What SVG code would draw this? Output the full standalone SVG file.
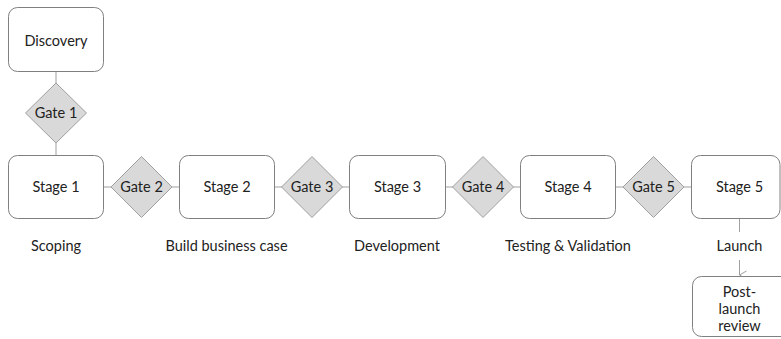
<svg xmlns="http://www.w3.org/2000/svg" width="781" height="339" viewBox="0 0 781 339">
<style>
.box{fill:#fff;stroke:#808080;stroke-width:1}
.gate{fill:#d9d9d9;stroke:#a0a0a0;stroke-width:1}
.t{font-family:Lato,"Liberation Sans",sans-serif;font-size:14.5px;fill:#222;text-anchor:middle}
.c{stroke:#a0a0a0;stroke-width:1;fill:none}
</style>
<defs>
<marker id="arr" markerWidth="10" markerHeight="10" refX="5" refY="8" orient="auto" markerUnits="userSpaceOnUse" viewBox="0 0 10 10">
<path d="M1,1 L5,8 L9,1" fill="none" stroke="#a0a0a0" stroke-width="1"/>
</marker>
</defs>
<g id="connectors">
<line class="c" x1="56" y1="72" x2="56" y2="83"/>
<line class="c" x1="56" y1="143" x2="56" y2="155"/>
<line class="c" x1="104" y1="187" x2="111" y2="187"/>
<line class="c" x1="172" y1="187" x2="179" y2="187"/>
<line class="c" x1="274" y1="187" x2="282" y2="187"/>
<line class="c" x1="342" y1="187" x2="349" y2="187"/>
<line class="c" x1="445" y1="187" x2="453" y2="187"/>
<line class="c" x1="513" y1="187" x2="520" y2="187"/>
<line class="c" x1="616" y1="187" x2="623" y2="187"/>
<line class="c" x1="684" y1="187" x2="691" y2="187"/>
<line class="c" x1="739.5" y1="219" x2="739.5" y2="232"/>
<line class="c" x1="739.5" y1="260" x2="739.5" y2="275" marker-end="url(#arr)"/>
</g>
<g id="discovery"><rect class="box" x="8.5" y="7.5" width="95" height="64" rx="9"/><text class="t" x="56" y="46">Discovery</text></g>
<g id="gate1"><polygon class="gate" points="56,83 86.5,113 56,143 25.5,113"/><text class="t" x="56" y="118">Gate 1</text></g>
<g id="stage1"><rect class="box" x="8.5" y="155.5" width="95" height="63" rx="9"/><text class="t" x="56" y="192">Stage 1</text></g>
<g id="gate2"><polygon class="gate" points="141.5,156.5 172,187 141.5,217.5 111,187"/><text class="t" x="141.5" y="192">Gate 2</text></g>
<g id="stage2"><rect class="box" x="179.5" y="155.5" width="95" height="63" rx="9"/><text class="t" x="227" y="192">Stage 2</text></g>
<g id="gate3"><polygon class="gate" points="312,156.5 342.5,187 312,217.5 281.5,187"/><text class="t" x="312" y="192">Gate 3</text></g>
<g id="stage3"><rect class="box" x="349.5" y="155.5" width="96" height="63" rx="9"/><text class="t" x="397.5" y="192">Stage 3</text></g>
<g id="gate4"><polygon class="gate" points="483,156.5 513.5,187 483,217.5 452.5,187"/><text class="t" x="483" y="192">Gate 4</text></g>
<g id="stage4"><rect class="box" x="520.5" y="155.5" width="95" height="63" rx="9"/><text class="t" x="568" y="192">Stage 4</text></g>
<g id="gate5"><polygon class="gate" points="653.5,156.5 684,187 653.5,217.5 623,187"/><text class="t" x="653.5" y="192">Gate 5</text></g>
<g id="stage5"><rect class="box" x="691.5" y="155.5" width="88.5" height="63" rx="9"/><text class="t" x="739.5" y="192">Stage 5</text></g>
<g id="postlaunch"><rect class="box" x="692.5" y="276.5" width="100" height="60" rx="9"/><text class="t" x="739.5" y="297">Post-</text><text class="t" x="739.5" y="314">launch</text><text class="t" x="739.5" y="331">review</text></g>
<g id="labels">
<text class="t" x="56" y="250.5">Scoping</text>
<text class="t" x="226.5" y="250.5">Build business case</text>
<text class="t" x="397" y="250.5">Development</text>
<text class="t" x="568" y="250.5">Testing &amp; Validation</text>
<text class="t" x="739.5" y="250.5">Launch</text>
</g>
</svg>
